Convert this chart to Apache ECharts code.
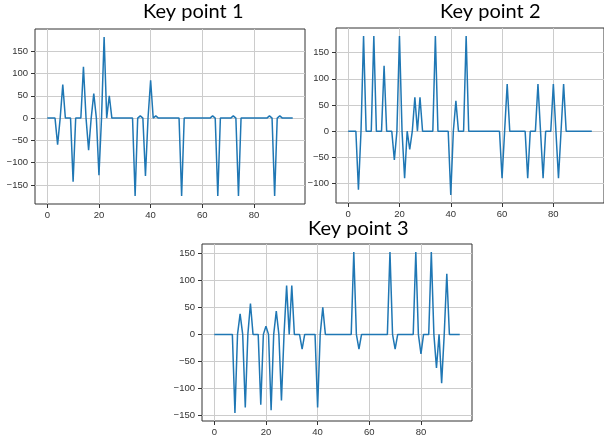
<!DOCTYPE html>
<html>
<head>
<meta charset="utf-8">
<script src="https://cdn.jsdelivr.net/npm/echarts@6.0.0/dist/echarts.min.js"></script>
<style>
  html, body { margin: 0; padding: 0; background: #fff; }
  #chart { width: 604px; height: 441px; }
</style>
</head>
<body>
<div id="chart"></div>
<script>
// values, one per sample index 0..95
const keyPoint1 = [
  0, 0, 0, 0, -60, 0, 75, 0, 0, 0,
  -143, 0, 0, 0, 115, 0, -72, 0, 55, 0,
  -128, 0, 182, 0, 50, 0, 0, 0, 0, 0,
  0, 0, 0, 0, -175, 0, 5, 0, -130, 0,
  85, 0, 5, 0, 0, 0, 0, 0, 0, 0,
  0, 0, -175, 0, 0, 0, 0, 0, 0, 0,
  0, 0, 0, 0, 5, 0, -175, 0, 0, 0,
  0, 0, 5, 0, -175, 0, 0, 0, 0, 0,
  0, 0, 0, 0, 0, 0, 5, 0, -175, 0,
  5, 0, 0, 0, 0, 0
];
const keyPoint2 = [
  0, 0, 0, 0, -112, 0, 182, 0, 0, 0,
  182, 0, 0, 0, 125, 0, 0, 0, -55, 0,
  182, 0, -90, 0, -35, 0, 65, 0, 65, 0,
  0, 0, 0, 0, 182, 0, 0, 0, 0, 0,
  -122, 0, 58, 0, 0, 0, 182, 0, 0, 0,
  0, 0, 0, 0, 0, 0, 0, 0, 0, 0,
  -90, 0, 90, 0, 0, 0, 0, 0, 0, 0,
  -90, 0, 0, 0, 90, 0, -90, 0, 0, 0,
  90, 0, -90, 0, 90, 0, 0, 0, 0, 0,
  0, 0, 0, 0, 0, 0
];
const keyPoint3 = [
  0, 0, 0, 0, 0, 0, 0, 0, -145, 0,
  38, 0, -135, 0, 57, 0, 0, 0, -130, 0,
  15, 0, -140, 0, 43, 0, -122, 0, 90, 0,
  90, 0, 0, 0, -27, 0, 0, 0, 0, 0,
  -135, 0, 50, 0, 0, 0, 0, 0, 0, 0,
  0, 0, 0, 0, 152, 0, -27, 0, 0, 0,
  0, 0, 0, 0, 0, 0, 0, 0, 152, 0,
  -27, 0, 0, 0, 0, 0, 0, 0, 152, 0,
  -36, 0, 0, 0, 152, 0, -62, 0, -90, 0,
  112, 0, 0, 0, 0, 0
];
const titles = ['Key point 1', 'Key point 2', 'Key point 3'];
const xTicks = [0, 20, 40, 60, 80];
const yTicks1 = [-150, -100, -50, 0, 50, 100, 150];
const yTicks2 = [-100, -50, 0, 50, 100, 150];
const yTicks3 = [-150, -100, -50, 0, 50, 100, 150];

const panels = [
  { data: keyPoint1, yTicks: yTicks1, grid: { left: 35, top: 29, width: 270, height: 175 }, title: { left: 143, top: 2 } },
  { data: keyPoint2, yTicks: yTicks2, grid: { left: 336, top: 28, width: 270, height: 175 }, title: { left: 440, top: 2 } },
  { data: keyPoint3, yTicks: yTicks3, grid: { left: 202, top: 244, width: 270, height: 177 }, title: { left: 308, top: 219 } }
];

// matplotlib-like 5% margins
function padRange(lo, hi) {
  const p = (hi - lo) * 0.05;
  return [lo - p, hi + p];
}

const labelStyle = { color: '#333', fontSize: 9.5, fontFamily: 'Liberation Sans' };
const fmt = v => String(v).replace('-', '\u2212');

const option = { animation: false, title: [], grid: [], xAxis: [], yAxis: [], series: [] };

panels.forEach((p, i) => {
  const n = p.data.length;
  const xr = padRange(0, n - 1);
  const yr = padRange(Math.min(...p.data), Math.max(...p.data));
  option.title.push({
    text: titles[i], left: p.title.left, top: p.title.top, padding: 0,
    textStyle: { fontFamily: 'Lato', fontSize: 20, fontWeight: 'normal', color: '#000' }
  });
  option.grid.push(Object.assign({ show: true, borderColor: '#333', borderWidth: 1, backgroundColor: '#fff' }, p.grid));
  option.xAxis.push({
    type: 'value', gridIndex: i, min: xr[0], max: xr[1],
    axisLine: { show: false, onZero: false },
    axisTick: { show: true, length: 4, lineStyle: { color: '#333' }, customValues: xTicks },
    axisLabel: Object.assign({ margin: 6, customValues: xTicks, formatter: fmt }, labelStyle),
    splitLine: { show: true, lineStyle: { color: '#cccccc', width: 1 } }
  });
  option.yAxis.push({
    type: 'value', gridIndex: i, min: yr[0], max: yr[1],
    axisLine: { show: false, onZero: false },
    axisTick: { show: true, length: 4, lineStyle: { color: '#333' }, customValues: p.yTicks },
    axisLabel: Object.assign({ margin: 7, customValues: p.yTicks, formatter: fmt }, labelStyle),
    splitLine: { show: true, lineStyle: { color: '#cccccc', width: 1 } }
  });
  option.series.push({
    type: 'line', xAxisIndex: i, yAxisIndex: i,
    data: p.data.map((v, k) => [k, v]),
    showSymbol: false,
    lineStyle: { color: '#1f77b4', width: 1.5 },
    z: 3
  });
});

const chart = echarts.init(document.getElementById('chart'), null, { renderer: 'canvas' });
chart.setOption(option);
</script>
</body>
</html>
